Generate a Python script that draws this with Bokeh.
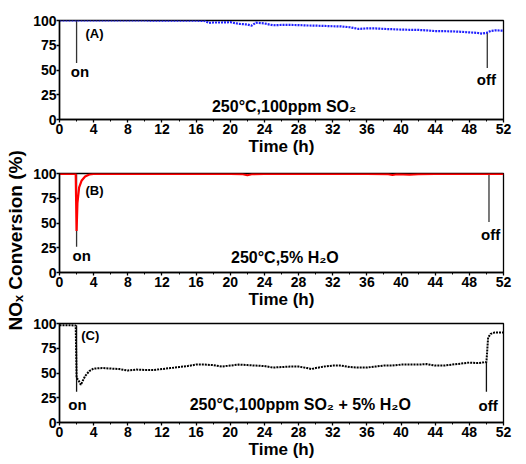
from bokeh.plotting import figure
from bokeh.layouts import row, column
from bokeh.models import Label, FixedTicker
from bokeh.embed import file_html
from bokeh.resources import INLINE
import math

FONT = "Liberation Sans"

# ---------------- data ----------------
# (A) 250°C, 100 ppm SO2
time_a = [0, 2, 4, 6, 8, 10, 12, 14, 16,
          17, 17.5, 18, 19, 20, 21, 22, 22.5, 23,
          24, 25, 26, 27, 28, 29, 30, 31, 32, 33, 34, 35, 36, 37, 38, 39, 40,
          41, 42, 43, 44, 45, 46, 47, 48, 49,
          49.5, 50, 50.5, 51, 52]
conv_a = [100, 100, 100, 100, 100, 100, 99.8, 99.8, 99.8,
          99.5, 97.5, 98, 98, 98.3, 96.6, 96, 94.8, 97.8,
          97, 95.2, 95.5, 95.5, 95.4, 95, 94.8, 94.5, 94.2, 94, 93.2, 91.5, 92, 92, 91.5, 91.2, 90.8,
          90.6, 90.5, 90, 89.3, 89.2, 89, 88.6, 88, 87.4,
          86.8, 87.5, 89.5, 90, 89.8]

# (B) 250°C, 5% H2O
time_b = [0, 1, 1.9, 2.0, 2.1, 2.3, 2.6, 3.0, 3.5, 4,
          8, 12, 16, 20, 21.5, 22, 22.5, 24, 28, 32, 36,
          38.5, 39, 39.5, 41, 42, 44, 48, 50, 52]
conv_b = [99.5, 99.5, 99.5, 42, 70, 86, 93, 97, 99, 99.5,
          99.5, 99.5, 99.5, 99.5, 99.3, 98.2, 99.3, 99.5, 99.5, 99.5, 99.5,
          99.3, 98.5, 99.3, 98.8, 99.3, 99.5, 99.5, 99.5, 99.5]

# (C) 250°C, 100 ppm SO2 + 5% H2O
time_c = [0, 1, 1.9, 2.0, 2.2, 2.5, 3, 3.5,
          4, 5, 6, 7, 8, 9, 10, 11, 12, 13, 14, 15, 16, 17, 18, 19, 20,
          21, 22, 23, 24, 25, 26, 27, 28, 29, 29.5, 30, 31, 32, 33, 34, 35,
          36, 37, 38, 39, 40, 41, 42, 43, 44, 45, 46, 47, 48, 49, 50,
          50.2, 50.5, 51, 52]
conv_c = [98.3, 98.3, 98, 45, 43, 38, 47, 52,
          54.5, 55, 54.5, 54, 52.5, 53.5, 53, 53, 54, 55, 56, 57, 58.5, 58.5, 58, 56.5, 57.5,
          58.5, 58, 57.5, 57, 55.5, 56, 56.5, 56.5, 55, 54, 55, 56.5, 57.5, 57.5, 56, 55.5,
          55.5, 56.5, 57.5, 57.5, 58.5, 58.5, 58.5, 59, 57.5, 57.5, 58.5, 59.5, 60.5, 60, 61,
          86, 89.5, 91, 91]

# on / off marker lines: x, top, bottom
marks_a_x = [2.0, 50.1]
marks_a_top = [100, 88]
marks_a_bot = [57, 52]
marks_b_x = [2.0, 50.3]
marks_b_top = [100, 100]
marks_b_bot = [26, 51]
marks_c_x = [2.0, 50.0]
marks_c_top = [98, 61]
marks_c_bot = [31, 31]

x_ticks = list(range(0, 53, 4))
y_ticks = [0, 25, 50, 75, 100]

W = 486


def panel(height, top, bottom):
    p = figure(width=W, height=height, x_range=(0, 52), y_range=(0, 100),
               output_backend="svg", toolbar_location=None,
               min_border_left=26, min_border_right=13,
               min_border_top=top, min_border_bottom=bottom)
    p.grid.visible = False
    p.outline_line_color = "black"
    p.outline_line_width = 1.3
    p.background_fill_color = "white"
    p.border_fill_color = "white"
    p.xaxis.ticker = FixedTicker(ticks=x_ticks, minor_ticks=list(range(2, 52, 4)))
    p.yaxis.ticker = FixedTicker(ticks=y_ticks)
    for ax in (p.xaxis, p.yaxis):
        ax.axis_line_color = "black"
        ax.axis_line_width = 1.5
        ax.major_tick_line_width = 1.3
        ax.minor_tick_line_width = 1.0
        ax.major_tick_out = 3
        ax.major_tick_in = 0
        ax.minor_tick_out = 2
        ax.minor_tick_in = 0
        ax.major_label_text_font = FONT
        ax.major_label_text_font_style = "bold"
        ax.major_label_text_font_size = "14px"
        ax.major_label_text_color = "black"
        ax.major_label_standoff = 1
    p.yaxis.major_label_standoff = 0
    p.xaxis.axis_label = "Time (h)"
    p.xaxis.axis_label_text_font = FONT
    p.xaxis.axis_label_text_font_style = "bold"
    p.xaxis.axis_label_text_font_size = "17px"
    p.xaxis.axis_label_text_color = "black"
    p.xaxis.axis_label_standoff = 0
    return p


def txt(p, x, y, s, size="15px"):
    p.add_layout(Label(x=x, y=y, text=s, text_font=FONT, text_font_style="bold",
                       text_font_size=size, text_align="center",
                       text_baseline="middle", text_color="black"))


pa = panel(160, 20, 41)
pa.segment(x0=marks_a_x, y0=marks_a_bot, x1=marks_a_x, y1=marks_a_top,
           line_color="#333333", line_width=1.3)
pa.line(time_a, conv_a, line_color="#2020ff", line_width=2.2, line_dash="2 1")
txt(pa, 4.1, 87, "(A)", "13px")
txt(pa, 2.4, 48, "on")
txt(pa, 50.0, 40, "off")
txt(pa, 26.3, 13, "250°C,100ppm SO₂", "16px")

pb = panel(153, 13, 41)
pb.segment(x0=marks_b_x, y0=marks_b_bot, x1=marks_b_x, y1=marks_b_top,
           line_color="#333333", line_width=1.3)
pb.line(time_b, conv_b, line_color="#ff0000", line_width=2.2)
txt(pb, 4.1, 83, "(B)", "13px")
txt(pb, 2.6, 17, "on")
txt(pb, 50.5, 38, "off")
txt(pb, 26.4, 15, "250°C,5% H₂O", "16px")

pc = panel(150, 10, 41)
pc.segment(x0=marks_c_x, y0=marks_c_bot, x1=marks_c_x, y1=marks_c_top,
           line_color="#111111", line_width=1.3)
pc.line(time_c, conv_c, line_color="black", line_width=2.0, line_dash="2 1")
txt(pc, 3.6, 88, "(C)", "13px")
txt(pc, 2.1, 18, "on")
txt(pc, 50.2, 17, "off")
txt(pc, 28.2, 18, "250°C,100ppm SO₂ + 5% H₂O", "16px")

lab = figure(width=30, height=463, x_range=(0, 1), y_range=(0, 1),
             output_backend="svg", toolbar_location=None,
             x_axis_type=None, y_axis_type=None,
             min_border=0, min_border_left=0, min_border_right=0,
             min_border_top=0, min_border_bottom=0)
lab.grid.visible = False
lab.outline_line_color = None
lab.add_layout(Label(x=0.5, y=0.482, text="NOₓ Conversion (%)", angle=math.pi / 2,
                     text_font=FONT, text_font_style="bold", text_font_size="19px",
                     text_align="center", text_baseline="middle", text_color="black"))

layout = row(lab, column(pa, pb, pc, spacing=0), spacing=0)
open("out.html", "w").write(file_html(layout, INLINE))
